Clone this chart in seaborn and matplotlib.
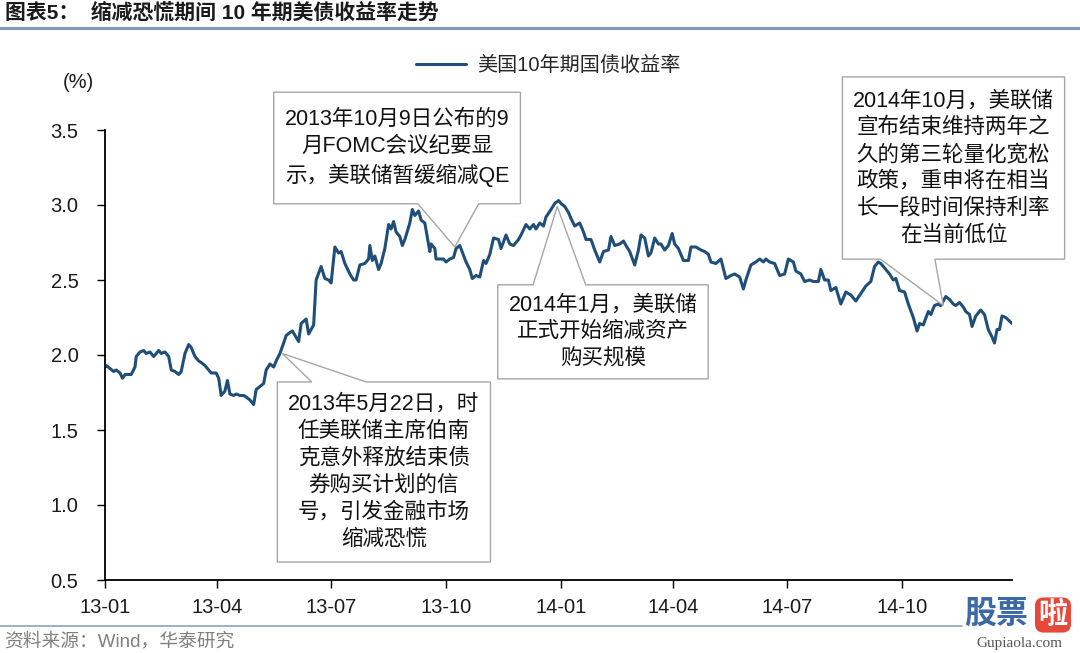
import pandas as pd
import seaborn as sns
import matplotlib.pyplot as plt
import matplotlib.dates as mdates
from matplotlib.patches import Polygon
from matplotlib.lines import Line2D

# 10y US treasury yield (days counted from 2013-01-01)
days = [0, 1, 4, 7, 9, 12, 14, 16, 19, 21, 24, 25, 28, 31, 33, 36, 39, 43, 45, 48,
        51, 53, 56, 59, 61, 64, 67, 69, 72, 75, 77, 80, 83, 85, 89, 91, 93, 96, 98, 100,
        103, 105, 108, 111, 113, 116, 119, 121, 124, 127, 129, 132, 135, 137, 140, 143, 145, 148, 150, 155,
        157, 161, 163, 167, 169, 173, 176, 179, 181, 184, 187, 189, 192, 196, 199, 201, 204, 208, 211, 212,
        214, 216, 219, 221, 224, 227, 229, 231, 233, 236, 238, 240, 244, 246, 248, 251, 253, 256, 259, 260,
        261, 264, 265, 268, 271, 273, 276, 279, 281, 284, 289, 292, 294, 297, 300, 303, 305, 308, 311, 315,
        317, 321, 324, 327, 331, 333, 337, 340, 343, 345, 348, 351, 353, 357, 360, 363, 365, 368, 371, 373,
        376, 380, 383, 385, 389, 392, 396, 399, 403, 405, 408, 412, 415, 417, 420, 424, 427, 429, 432, 435,
        437, 440, 443, 445, 448, 451, 454, 456, 459, 463, 467, 469, 473, 477, 480, 483, 485, 489, 493, 497,
        501, 504, 508, 511, 513, 517, 521, 524, 527, 529, 532, 536, 540, 544, 547, 551, 553, 557, 560, 564,
        567, 571, 573, 576, 579, 581, 585, 589, 593, 597, 601, 605, 609, 613, 616, 619, 621, 625, 628, 631,
        633, 636, 640, 643, 647, 650, 652, 655, 659, 661, 664, 667, 669, 673, 676, 679, 681, 684, 687, 689,
        692, 694, 697, 701, 704, 707, 710, 712, 714, 716, 718, 721, 726]
yields = [1.92, 1.93, 1.91, 1.89, 1.90, 1.88, 1.845, 1.87, 1.87, 1.87, 1.92, 1.99, 2.02, 2.03, 2.01, 2.02, 1.99, 2.03, 2.01, 2.02,
          1.99, 1.90, 1.89, 1.87, 1.89, 2.01, 2.07, 2.05, 1.99, 1.96, 1.95, 1.93, 1.90, 1.88, 1.88, 1.845, 1.73, 1.76, 1.83, 1.74,
          1.73, 1.74, 1.73, 1.73, 1.72, 1.70, 1.67, 1.77, 1.79, 1.81, 1.90, 1.94, 1.92, 1.96, 2.01, 2.08, 2.13, 2.15, 2.16, 2.09,
          2.21, 2.24, 2.14, 2.20, 2.50, 2.59, 2.51, 2.50, 2.48, 2.72, 2.68, 2.69, 2.61, 2.54, 2.50, 2.50, 2.60, 2.61, 2.64, 2.73,
          2.63, 2.66, 2.57, 2.61, 2.71, 2.87, 2.84, 2.89, 2.82, 2.79, 2.73, 2.77, 2.88, 2.97, 2.93, 2.96, 2.90, 2.88, 2.74, 2.69,
          2.74, 2.71, 2.64, 2.64, 2.64, 2.62, 2.64, 2.65, 2.71, 2.73, 2.62, 2.57, 2.51, 2.53, 2.52, 2.63, 2.61, 2.67, 2.78, 2.77,
          2.71, 2.80, 2.74, 2.73, 2.77, 2.80, 2.87, 2.84, 2.87, 2.84, 2.88, 2.86, 2.92, 2.97, 3.01, 3.03, 3.01, 2.99, 2.95, 2.91,
          2.86, 2.88, 2.82, 2.77, 2.77, 2.70, 2.62, 2.69, 2.70, 2.79, 2.73, 2.74, 2.76, 2.73, 2.69, 2.60, 2.70, 2.80, 2.78, 2.66,
          2.68, 2.78, 2.74, 2.74, 2.70, 2.73, 2.81, 2.74, 2.71, 2.63, 2.63, 2.72, 2.72, 2.70, 2.69, 2.67, 2.62, 2.61, 2.64, 2.51,
          2.53, 2.54, 2.52, 2.44, 2.50, 2.60, 2.62, 2.64, 2.62, 2.64, 2.62, 2.61, 2.53, 2.54, 2.64, 2.62, 2.56, 2.54, 2.49, 2.50,
          2.49, 2.49, 2.57, 2.50, 2.50, 2.43, 2.45, 2.34, 2.42, 2.40, 2.36, 2.41, 2.46, 2.49, 2.59, 2.62, 2.61, 2.57, 2.54, 2.50,
          2.51, 2.43, 2.42, 2.34, 2.25, 2.16, 2.21, 2.20, 2.29, 2.27, 2.33, 2.34, 2.33, 2.39, 2.37, 2.34, 2.33, 2.35, 2.32, 2.29,
          2.27, 2.19, 2.26, 2.30, 2.27, 2.17, 2.12, 2.08, 2.17, 2.17, 2.26, 2.25, 2.21]

series_name = "美国10年期国债收益率"
title = "图表5：  缩减恐慌期间 10 年期美债收益率走势"
source = "资料来源：Wind，华泰研究"
y_ticks = [0.5, 1.0, 1.5, 2.0, 2.5, 3.0, 3.5]

notes = [
    "2013年10月9日公布的9\n月FOMC会议纪要显\n示，美联储暂缓缩减QE",
    "2013年5月22日，时\n任美联储主席伯南\n克意外释放结束债\n券购买计划的信\n号，引发金融市场\n缩减恐慌",
    "2014年1月，美联储\n正式开始缩减资产\n购买规模",
    "2014年10月，美联储\n宣布结束维持两年之\n久的第三轮量化宽松\n政策，重申将在相当\n长一段时间保持利率\n在当前低位",
]
note_dates = ["2013-10-08", "2013-05-23", "2013-12-29", "2014-11-03"]
note_values = [2.72, 2.01, 2.99, 2.33]

# callout boxes in axes fraction: (x0, x1, y_bottom, y_top), wedge base, wedge side
note_boxes = [(0.186, 0.458, 0.836, 1.084), (0.190, 0.425, 0.040, 0.440),
              (0.433, 0.665, 0.447, 0.656), (0.813, 1.058, 0.713, 1.118)]
note_bases = [(0.345, 0.412), (0.228, 0.288), (0.472, 0.530), (0.855, 0.915)]
note_sides = ["bottom", "top", "top", "bottom"]

df = pd.DataFrame({
    "date": pd.Timestamp("2013-01-01") + pd.to_timedelta(days, unit="D"),
    "yield": yields,
})

sns.set_theme(style="ticks")
plt.rcParams["font.family"] = ["Liberation Sans", "Noto Sans CJK SC"]

W, H = 1080, 653
line_color = "#1f4e79"
fs = 14.5

fig = plt.figure(figsize=(W / 100, H / 100), dpi=100)
ax = fig.add_axes([105 / W, 1 - 580 / H, 907 / W, 450 / H])

sns.lineplot(data=df, x="date", y="yield", color=line_color, linewidth=2.2,
             label=series_name, ax=ax)

ax.set_xlim(df["date"].iloc[0], df["date"].iloc[-1])
ax.set_ylim(0.5, 3.5)
ax.set_yticks(y_ticks)
ax.yaxis.set_major_formatter(plt.FormatStrFormatter("%.1f"))
ax.xaxis.set_major_locator(mdates.MonthLocator(bymonth=[1, 4, 7, 10]))
ax.xaxis.set_major_formatter(mdates.DateFormatter("%y-%m"))
ax.set_xlabel("")
ax.set_ylabel("")
for side in ["top", "right"]:
    ax.spines[side].set_visible(False)
for side in ["left", "bottom"]:
    ax.spines[side].set_linewidth(1.3)
    ax.spines[side].set_color("black")
ax.tick_params(axis="both", labelsize=fs, length=6, width=1, color="black",
               labelcolor="#1a1a1a")
ax.tick_params(axis="y", pad=13)
ax.tick_params(axis="x", pad=7)

ax.legend(loc="center", bbox_to_anchor=(0.489, 1.144), frameon=False,
          fontsize=fs, handlelength=2.5, handletextpad=0.55)

# callouts
for text, d, v, box, base, side in zip(notes, note_dates, note_values,
                                       note_boxes, note_bases, note_sides):
    x0, x1, yb, yt = box
    tip = ax.transAxes.inverted().transform(
        ax.transData.transform((mdates.date2num(pd.Timestamp(d)), v)))
    if side == "top":
        pts = [(x0, yb), (x0, yt), (base[0], yt), tuple(tip), (base[1], yt), (x1, yt), (x1, yb)]
    else:
        pts = [(x0, yt), (x1, yt), (x1, yb), (base[1], yb), tuple(tip), (base[0], yb), (x0, yb)]
    ax.add_patch(Polygon(pts, closed=True, transform=ax.transAxes, facecolor="white",
                         edgecolor="#a6a6a6", linewidth=1.0, clip_on=False, zorder=5))
    ax.text((x0 + x1) / 2, (yb + yt) / 2, text, transform=ax.transAxes, ha="center",
            va="center", multialignment="center", fontsize=15.5, color="#111111",
            linespacing=1.37, zorder=6)

fig.text(78 / W, 1 - 83 / H, "(%)", ha="center", va="center", fontsize=fs, color="#1a1a1a")

# header / footer
fig.text(5 / W, 1 - 13 / H, title, ha="left", va="center", fontsize=15,
         fontweight="bold", color="#1a1a1a")
fig.add_artist(Line2D([0, 1], [1 - 27.5 / H] * 2, color="#7f9bb8", linewidth=2.2))
fig.add_artist(Line2D([0, 962 / W], [1 - 626 / H] * 2, color="#8aa4bf", linewidth=1.2))
fig.text(4 / W, 1 - 641 / H, source, ha="left", va="center", fontsize=13.5, color="#808080")

# watermark
fig.text(964 / W, 1 - 615 / H, "股票", ha="left", va="center", fontsize=23,
         fontweight="bold", color="#3a69a4")
fig.text(1053 / W, 1 - 615 / H, "啦", ha="center", va="center", fontsize=21,
         fontweight="bold", color="white",
         bbox=dict(boxstyle="round,pad=0.12,rounding_size=0.3", fc="#e5493b", ec="none"))
fig.text(1019 / W, 1 - 644 / H, "Gupiaola.com", ha="center", va="center", fontsize=11,
         family="Liberation Serif", color="#555555")

fig.savefig("out.png", dpi=100)
